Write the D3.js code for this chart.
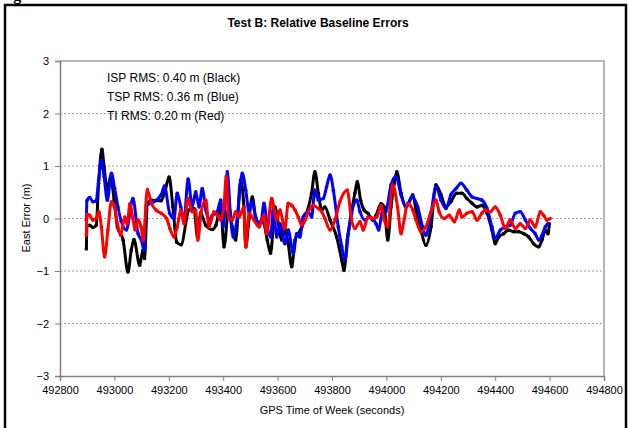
<!DOCTYPE html>
<html>
<head>
<meta charset="utf-8">
<script src="https://cdn.jsdelivr.net/npm/d3@7"></script>
<style>
  body { margin: 0; background: #fff; }
  text { font-family: Arial, "Liberation Sans", sans-serif; }
</style>
</head>
<body>
<div id="chart"></div>
<script>
// GPS time of week (s) and east error (m)
var ispTime = [492897,492899,492909,492921,492933,492942,492954,492962,492974,492986,492999,493011,493032,493050,493062,493072,493093,493105,493111,493121,493136,493172,493187,493201,493215,493229,493245,493274,493293,493305,493317,493336,493360,493373,493391,493403,493421,493433,493446,493464,493476,493483,493495,493507,493519,493532,493544,493562,493574,493584,493590,493603,493615,493627,493639,493652,493664,493676,493689,493707,493725,493737,493750,493762,493774,493793,493817,493836,493844,493856,493869,493884,493893,493905,493918,493932,493950,493962,493980,493992,494005,494017,494029,494038,494054,494072,494097,494109,494127,494145,494164,494182,494201,494219,494237,494258,494278,494296,494315,494333,494351,494370,494388,494400,494413,494431,494449,494468,494486,494505,494523,494541,494560,494572,494584,494594,494599];
var ispErr = [-0.58,-0.15,-0.13,-0.17,-0.13,0.67,1.32,0.99,0.54,0.80,0.35,-0.16,-0.41,-1.02,-0.60,-0.40,-0.89,-0.60,-0.76,0.29,0.35,0.34,0.54,0.79,0.22,-0.45,-0.50,0.16,0.19,-0.35,0.10,-0.13,-0.21,-0.13,0.22,-0.54,0.22,-0.16,-0.41,0.73,0.22,-0.54,0.00,0.41,0.03,-0.10,0.00,-0.41,-0.66,-0.16,0.22,-0.10,-0.41,-0.22,-0.48,-0.92,-0.41,-0.29,-0.16,0.10,0.48,0.89,0.48,0.16,0.22,-0.03,-0.35,-0.80,-0.99,-0.41,0.03,0.48,0.70,0.35,0.16,0.10,-0.03,0.06,0.28,0.22,-0.41,0.22,0.67,0.89,0.48,0.22,0.45,0.16,-0.22,-0.51,-0.16,0.64,0.45,0.22,0.32,0.48,0.48,0.38,0.29,0.22,0.25,0.10,-0.22,-0.48,-0.35,-0.29,-0.22,-0.25,-0.25,-0.29,-0.35,-0.48,-0.54,-0.41,-0.22,-0.29,-0.10];

var tspTime = [492897,492899,492909,492921,492933,492942,492952,492962,492974,492989,493001,493013,493025,493044,493068,493087,493099,493109,493117,493136,493172,493184,493203,493219,493231,493244,493256,493271,493286,493299,493311,493323,493336,493348,493360,493378,493391,493400,493415,493428,493437,493452,493470,493483,493495,493507,493519,493538,493550,493562,493575,493584,493597,493609,493627,493639,493658,493670,493682,493694,493713,493725,493737,493750,493768,493780,493793,493805,493823,493836,493848,493860,493872,493891,493903,493921,493940,493962,493972,493984,493998,494017,494035,494054,494072,494097,494115,494133,494145,494164,494182,494201,494219,494237,494256,494274,494296,494315,494333,494351,494370,494388,494400,494419,494437,494455,494474,494492,494511,494529,494547,494560,494572,494584,494594];
var tspErr = [-0.03,0.34,0.40,0.32,0.34,0.73,1.11,0.80,0.35,0.86,0.57,0.22,-0.05,-0.22,0.38,-0.29,-0.41,-0.60,0.25,0.29,0.45,0.62,0.10,0.00,0.48,0.22,-0.03,0.75,0.22,0.51,0.22,0.57,0.16,-0.03,0.06,0.13,0.35,-0.16,0.89,-0.03,-0.35,0.03,0.86,0.54,0.13,0.32,0.03,-0.10,0.29,-0.16,-0.35,0.22,-0.35,-0.10,-0.48,-0.22,-0.67,-0.29,-0.35,0.03,0.13,0.03,0.54,0.35,0.38,0.60,0.83,0.54,-0.16,-0.54,-0.80,-0.29,0.10,0.35,0.13,-0.03,0.03,-0.10,-0.22,0.10,0.13,0.64,0.80,0.45,0.22,0.41,0.22,-0.16,-0.32,0.10,0.60,0.35,0.19,0.45,0.57,0.67,0.54,0.41,0.38,0.35,0.19,-0.16,-0.38,-0.22,-0.16,-0.13,0.10,0.13,-0.03,-0.19,-0.29,-0.41,-0.32,-0.16,-0.10];

var tiTime = [492897,492899,492909,492921,492933,492943,492952,492964,492976,492989,492999,493011,493023,493038,493047,493057,493068,493076,493087,493098,493106,493121,493136,493153,493172,493192,493204,493219,493231,493244,493256,493271,493286,493299,493307,493319,493336,493348,493366,493378,493391,493403,493411,493421,493433,493446,493458,493476,493483,493495,493513,493532,493550,493560,493578,493597,493609,493621,493627,493639,493652,493664,493676,493689,493701,493713,493731,493750,493762,493774,493793,493811,493829,493856,493872,493884,493903,493915,493932,493950,493965,493980,493992,494005,494023,494041,494054,494066,494078,494097,494109,494127,494145,494164,494182,494194,494213,494231,494250,494268,494278,494296,494315,494333,494351,494363,494382,494400,494419,494437,494455,494474,494492,494511,494529,494547,494566,494578,494590,494602];
var tiErr = [-0.32,0.08,0.06,-0.03,0.00,0.13,-0.16,-0.73,-0.22,0.32,0.25,-0.10,-0.32,0.03,-0.10,0.28,0.00,-0.22,-0.03,-0.16,-0.42,0.55,0.29,0.16,0.10,0.00,-0.19,-0.35,-0.16,0.16,-0.10,0.38,0.13,0.16,-0.41,0.13,0.35,-0.16,0.13,0.06,-0.03,0.25,0.80,0.00,-0.03,0.13,0.03,0.22,-0.54,0.10,-0.03,-0.16,0.06,-0.29,0.38,-0.03,0.16,-0.10,-0.19,0.29,0.25,0.16,0.03,-0.13,-0.03,0.13,0.25,0.19,0.13,0.00,-0.22,-0.03,0.32,0.54,-0.03,-0.19,-0.06,-0.22,0.03,0.00,0.03,0.25,-0.03,-0.16,0.64,0.22,-0.29,0.00,0.29,0.16,-0.03,-0.25,-0.16,0.13,0.35,0.13,0.00,0.06,-0.06,0.16,0.03,0.10,0.13,-0.03,0.10,0.16,0.13,0.22,0.06,-0.19,-0.03,-0.19,-0.10,-0.19,-0.03,-0.16,0.13,0.06,-0.03,0.00];

var xTicks = [492800,493000,493200,493400,493600,493800,494000,494200,494400,494600,494800];
var yTicks = [-3,-2,-1,0,1,2,3];
var notes = ["ISP RMS: 0.40 m (Black)", "TSP RMS: 0.36 m (Blue)", "TI RMS: 0.20 m (Red)"];

var series = [
  { name: "ISP", time: ispTime, err: ispErr, color: "#000000" },
  { name: "TSP", time: tspTime, err: tspErr, color: "#0000ff" },
  { name: "TI", time: tiTime, err: tiErr, color: "#ff0000" }
];

var width = 628, height = 428;
var plot = { left: 60, right: 604, top: 61, bottom: 376 };

var svg = d3.select("#chart").append("svg")
  .attr("width", width)
  .attr("height", height);

// outer frame of the figure
svg.append("rect")
  .attr("x", 5).attr("y", 5)
  .attr("width", 621).attr("height", 440)
  .attr("fill", "none")
  .attr("stroke", "#000")
  .attr("stroke-width", 2.5);

// cut-off caption above the frame
svg.append("text")
  .attr("x", -1).attr("y", 0)
  .style("font-family", "'Liberation Serif', serif")
  .style("font-weight", "bold")
  .style("font-size", "16px")
  .text("Figure");

var x = d3.scaleLinear().domain([492800, 494800]).range([plot.left, plot.right]);
var y = d3.scaleLinear().domain([-3, 3]).range([plot.bottom, plot.top]);

// gridlines
svg.append("g")
  .selectAll("line")
  .data(yTicks.filter(function (d) { return d > -3 && d < 3; }))
  .enter().append("line")
  .attr("x1", plot.left).attr("x2", plot.right)
  .attr("y1", function (d) { return y(d); })
  .attr("y2", function (d) { return y(d); })
  .attr("stroke", "#a0a0a0")
  .attr("stroke-width", 1)
  .attr("stroke-dasharray", "2,2");

// plot area border (top and right)
svg.append("path")
  .attr("d", "M" + plot.left + "," + plot.top + "H" + plot.right + "V" + plot.bottom)
  .attr("fill", "none")
  .attr("stroke", "#a0a0a0")
  .attr("stroke-width", 1.5);

var xAxis = svg.append("g")
  .attr("transform", "translate(0," + plot.bottom + ")")
  .call(d3.axisBottom(x).tickValues(xTicks).tickSize(5).tickPadding(5).tickFormat(d3.format("d")));

var yAxis = svg.append("g")
  .attr("transform", "translate(" + plot.left + ",0)")
  .call(d3.axisLeft(y).tickValues(yTicks).tickSize(5).tickPadding(6).tickFormat(d3.format("d")));

[xAxis, yAxis].forEach(function (a) {
  a.select(".domain").attr("stroke", "#808080").attr("stroke-width", 1.5);
  a.selectAll(".tick line").attr("stroke", "#808080");
  a.selectAll(".tick text")
    .style("font-family", "Arial, 'Liberation Sans', sans-serif")
    .style("font-size", "11px")
    .attr("fill", "#000");
});

var line = d3.line()
  .x(function (d) { return x(d[0]); })
  .y(function (d) { return y(d[1]); })
  .curve(d3.curveMonotoneX);

series.forEach(function (s) {
  var pts = s.time.map(function (t, i) { return [t, s.err[i]]; });
  var g = svg.append("g").attr("class", "series-" + s.name);
  g.append("path")
    .datum(pts)
    .attr("d", line)
    .attr("fill", "none")
    .attr("stroke", s.color)
    .attr("stroke-width", 3)
    .attr("stroke-linejoin", "round");
  g.selectAll("circle")
    .data(pts)
    .enter().append("circle")
    .attr("cx", function (d) { return x(d[0]); })
    .attr("cy", function (d) { return y(d[1]); })
    .attr("r", 1.8)
    .attr("fill", s.color);
});

// title
svg.append("text")
  .attr("x", 318).attr("y", 27)
  .attr("text-anchor", "middle")
  .style("font-size", "12px")
  .style("font-weight", "bold")
  .text("Test B: Relative Baseline Errors");

// RMS notes
svg.append("g")
  .selectAll("text")
  .data(notes)
  .enter().append("text")
  .attr("x", 107)
  .attr("y", function (d, i) { return 82 + i * 19; })
  .style("font-size", "12px")
  .text(function (d) { return d; });

// axis titles
svg.append("text")
  .attr("x", 332).attr("y", 414)
  .attr("text-anchor", "middle")
  .style("font-size", "11px")
  .text("GPS Time of Week (seconds)");

svg.append("text")
  .attr("transform", "translate(30,218) rotate(-90)")
  .attr("text-anchor", "middle")
  .style("font-size", "11px")
  .text("East Error (m)");
</script>
</body>
</html>
